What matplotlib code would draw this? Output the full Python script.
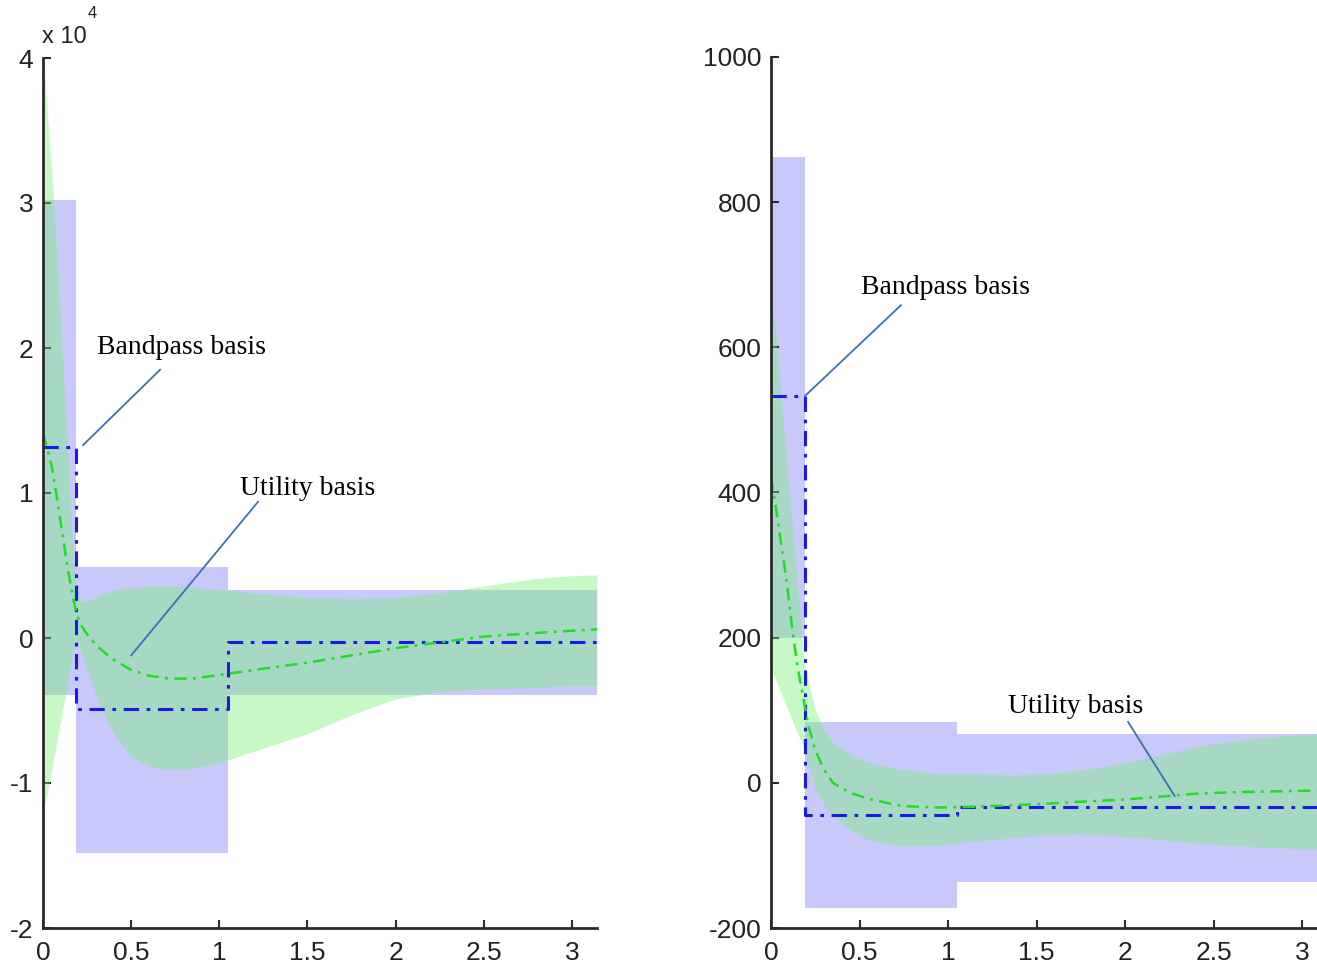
import numpy as np
import matplotlib
matplotlib.use("Agg")
import matplotlib.pyplot as plt

plt.rcParams['font.family'] = ['Liberation Sans Narrow', 'Liberation Sans', 'DejaVu Sans']

# ---------------- Left panel (values in units of 1e4) ----------------
band_edges_L = [0.0, 0.187, 1.05, np.pi]
band_lo_L = [-0.39, -1.48, -0.39]
band_up_L = [3.02, 0.49, 0.33]
step_L = [1.32, -0.49, -0.03]

gx_L = [0, 0.02, 0.05, 0.08, 0.11, 0.14, 0.17, 0.19, 0.22, 0.26, 0.31, 0.4, 0.5,
        0.6, 0.72, 0.85, 1.0, 1.2, 1.5, 1.75, 2.0, 2.25, 2.5, 2.8, 3.0, np.pi]
gmean_L = [1.41, 1.33, 1.18, 0.96, 0.72, 0.48, 0.28, 0.17, 0.08, 0.01, -0.06, -0.15, -0.22,
           -0.26, -0.28, -0.28, -0.255, -0.22, -0.17, -0.12, -0.07, -0.03, 0.01, 0.035, 0.05, 0.06]
gup_L = [4.05, 3.7, 3.2, 2.6, 1.95, 1.3, 0.6, 0.35, 0.25, 0.26, 0.29, 0.33, 0.35,
         0.355, 0.355, 0.35, 0.335, 0.31, 0.28, 0.27, 0.28, 0.31, 0.36, 0.41, 0.43, 0.435]
glo_L = [-1.2, -1.1, -0.9, -0.7, -0.5, -0.32, -0.08, 0.0, -0.12, -0.26, -0.43, -0.66, -0.82,
         -0.88, -0.91, -0.9, -0.86, -0.78, -0.66, -0.53, -0.42, -0.37, -0.35, -0.34, -0.33, -0.33]

# ---------------- Right panel ----------------
band_edges_R = [0.0, 0.19, 1.05, np.pi]
band_lo_R = [200, -172, -136]
band_up_R = [862, 84, 67]
step_R = [533, -45, -33]

gx_R = [0, 0.03, 0.06, 0.09, 0.12, 0.15, 0.18, 0.21, 0.25, 0.3, 0.35, 0.45, 0.55,
        0.74, 0.95, 1.14, 1.35, 1.54, 1.75, 2.0, 2.2, 2.4, 2.6, 2.8, 3.0, np.pi]
gmean_R = [421, 375, 325, 275, 212, 160, 120, 80, 45, 18, 0, -14, -22,
           -32, -34, -33, -31, -29, -26, -23, -19, -15, -13, -12, -11, -10]
gup_R = [689, 610, 525, 440, 355, 270, 185, 140, 100, 72, 56, 38, 28,
         18, 13, 12, 11, 12, 17, 28, 38, 50, 57, 63, 66, 67]
glo_R = [158, 140, 122, 104, 86, 68, 52, 25, -10, -30, -44, -66, -78,
         -87, -86, -81, -76, -72, -71, -74, -78, -83, -86, -89, -91, -92]

x_ticks = [0, 0.5, 1, 1.5, 2, 2.5, 3]
x_ticklabels = ['0', '0.5', '1', '1.5', '2', '2.5', '3']
y_ticks_L = [-2, -1, 0, 1, 2, 3, 4]
y_ticks_R = [-200, 0, 200, 400, 600, 800, 1000]

PURPLE = (200/255, 200/255, 250/255)
GREEN_FILL = (117/255, 242/255, 117/255)
BLUE = '#1a1ae6'
GREEN = '#22dd22'
ANN = '#3d6fb6'
SPINE = '#2a2a2a'

W, H = 1317, 964
fig = plt.figure(figsize=(W/100, H/100), dpi=100)
axL = fig.add_axes([43/W, 36/H, np.pi*176.3/W, 870/H])
axR = fig.add_axes([771/W, 36/H, np.pi*177/W, 871/H])


def draw(ax, edges, lo, up, step, gx, gm, gu, gl, ylim, yticks):
    ax.fill_between(edges, lo + [lo[-1]], up + [up[-1]], step='post',
                    color=PURPLE, lw=0, zorder=1)
    ax.fill_between(gx, gl, gu, color=GREEN_FILL, alpha=0.4, lw=0, zorder=2)
    ax.step(edges, step + [step[-1]], where='post', color=BLUE, lw=2.2,
            linestyle=(0, (5, 2.5, 1.2, 2.5)), zorder=3)
    ax.plot(gx, gm, color=GREEN, lw=1.8, linestyle=(0, (5, 2.5, 1.2, 2.5)), zorder=4)
    ax.set_xlim(0, np.pi)
    ax.set_ylim(*ylim)
    ax.set_xticks(x_ticks)
    ax.set_xticklabels(x_ticklabels)
    ax.set_yticks(yticks)
    ax.set_yticklabels([str(t) for t in yticks])
    for s in ['top', 'right']:
        ax.spines[s].set_visible(False)
    for s in ['left', 'bottom']:
        ax.spines[s].set_linewidth(2)
        ax.spines[s].set_color(SPINE)
        ax.spines[s].set_zorder(5)
    ax.tick_params(axis='both', direction='in', length=6, width=1.5, color=SPINE,
                   labelsize=19, labelcolor='#222222')
    ax.tick_params(axis='x', pad=9)
    ax.tick_params(axis='y', pad=7)
    ax.set_facecolor('none')


draw(axL, band_edges_L, band_lo_L, band_up_L, step_L, gx_L, gmean_L, gup_L, glo_L,
     (-2, 4), y_ticks_L)
draw(axR, band_edges_R, band_lo_R, band_up_R, step_R, gx_R, gmean_R, gup_R, glo_R,
     (-200, 1000), y_ticks_R)

serif = ['Liberation Serif', 'DejaVu Serif']
# Left annotations
axL.text(0.306, 2.0, 'Bandpass basis', fontsize=20, family=serif, va='center', ha='left')
axL.plot([0.664, 0.227], [1.85, 1.33], color=ANN, lw=1.3, zorder=6)
axL.text(1.117, 1.03, 'Utility basis', fontsize=20, family=serif, va='center', ha='left')
axL.plot([1.22, 0.50], [0.94, -0.12], color=ANN, lw=1.3, zorder=6)

# Right annotations
axR.text(0.508, 683, 'Bandpass basis', fontsize=20, family=serif, va='center', ha='left')
axR.plot([0.734, 0.192], [658, 533], color=ANN, lw=1.3, zorder=6)
axR.text(1.339, 105, 'Utility basis', fontsize=20, family=serif, va='center', ha='left')
axR.plot([2.017, 2.28], [84, -18], color=ANN, lw=1.3, zorder=6)

# exponent label
fig.text(42/W, 1 - 37/H, 'x 10', fontsize=17, va='center', ha='left', color='#222222')
fig.text(88/W, 1 - 14/H, '4', fontsize=12, va='center', ha='left', color='#222222')

fig.savefig('out.png', dpi=100)
